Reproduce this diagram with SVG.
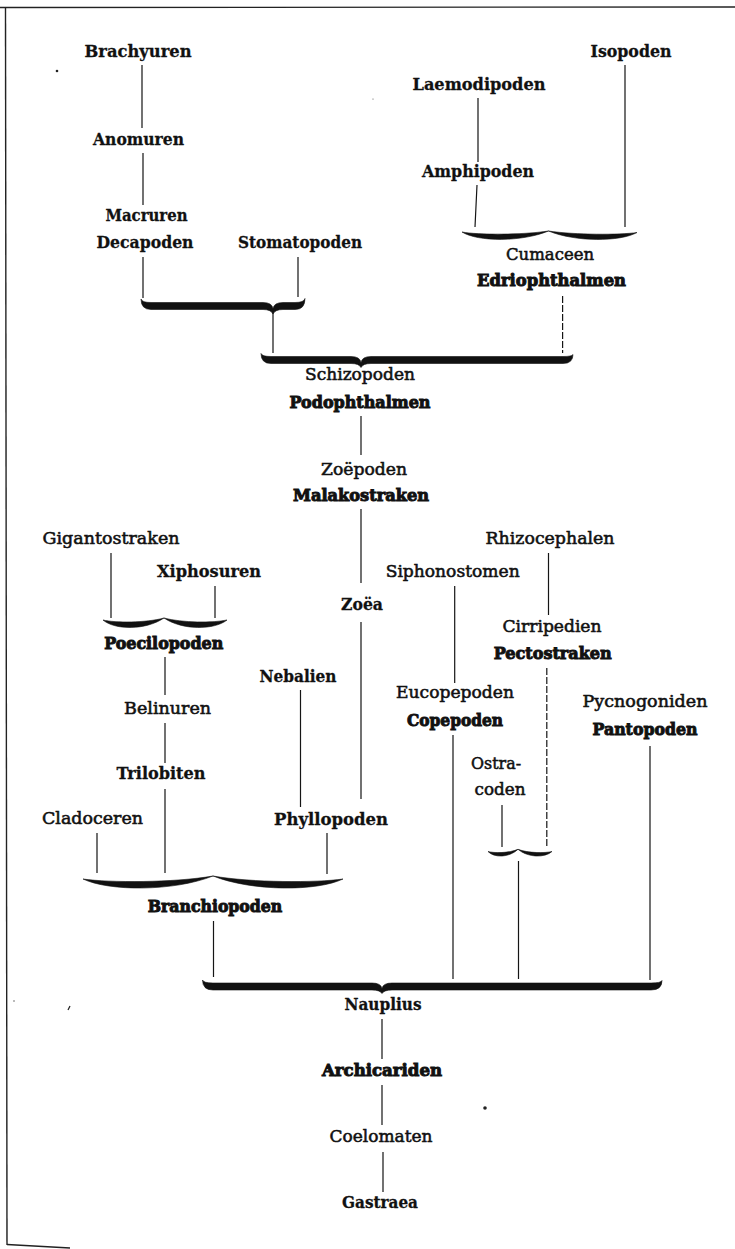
<svg xmlns="http://www.w3.org/2000/svg" width="735" height="1249" viewBox="0 0 735 1249">
<style>
text{font-family:"DejaVu Serif","Liberation Serif",serif;font-size:17px;fill:#111;text-anchor:middle}
.b{font-weight:bold;stroke:#111;stroke-width:0.3px}
.r{font-weight:normal;stroke:#111;stroke-width:0.55px}
.h{font-weight:bold;stroke:#111;stroke-width:1px}
.ln{stroke:#151515;stroke-width:1.2;fill:none}
.ds{stroke-dasharray:7 2}
.br{fill:#111;stroke:#111;stroke-width:0.6}
.fr{stroke:#222;stroke-width:1.4;fill:none}
</style>
<rect width="735" height="1249" fill="#fff"/>
<g id="frame">
<path class="fr" d="M0,7.5 L735,7"/>
<path class="fr" d="M5.5,7.5 L7,1245"/>
<path class="fr" d="M7,1244.5 L70,1248"/>
<circle cx="57" cy="71" r="1.3" fill="#222"/>
<circle cx="485" cy="1108" r="1.8" fill="#222"/>
<path d="M68,1010 L70,1006" stroke="#222" stroke-width="1.3"/>
<circle cx="14" cy="1001" r="0.7" fill="#444"/>
<circle cx="373" cy="99" r="0.6" fill="#555"/>
</g>
<g id="connectors">
<path class="ln" d="M142,65V128 M143,153V205 M143,257V298 M298,257V297 M478,98V162 M477,185L475,227 M625,65V227 M273,313V353 M361,416V455 M361,509V583 M361,622V799 M111,553V618 M215,586V618 M165,657V695 M165,723V763 M165,789V873 M97,833V873 M327,833V874 M300.5,690V807 M213.5,921V977 M454.7,586V683 M453,735V979 M548.5,553V615 M502,805V847 M518.5,861V979 M650,746V980 M382,1019V1059 M382,1085V1125 M383,1152V1192"/>
<path class="ln ds" d="M562.6,296V353 M546.8,668V847"/>
<g id="braces">
<path class="br" d="M141,299 Q141,309.5 151,309.5 L263,309.5 Q271,309.5 273,314 Q275,309.5 283,309.5 L295,309.5 Q305,309.5 305,298.5 Q304,302.5 295,302.5 L283,302.5 Q274,302.5 273,308.5 Q272,302.5 263,302.5 L151,302.5 Q142,302.5 141,299 Z"/>
<path class="br" d="M261,353.5 Q261,363.5 271,363.5 L351,363.5 Q359,363.5 361,367.5 Q363,363.5 371,363.5 L563,363.5 Q573,363.5 573,354.5 Q572,356.5 563,356.5 L371,356.5 Q362,356.5 361,362.5 Q360,356.5 351,356.5 L271,356.5 Q262,356.5 261,353.5 Z"/>
<path class="br" d="M202.5,980 Q202.5,990 213,990 L372,990 Q380,990 382,993.5 Q384,990 392,990 L651,990 Q662,990 662,980.5 Q661,983 651,983 L392,983 Q383,983 382,988.5 Q381,983 372,983 L213,983 Q203.5,983 202.5,980 Z"/>
<path class="br" d="M462,232 C478,242 522,242 548.5,231 C575,242 620,242 637,232.5 C620,235 575,235 548.5,231 C522,235 478,235 462,232 Z"/>
<path class="br" d="M103,620 C115,630.3 146,630.3 164,618 C182,630.3 214,630.3 227,620 C214,622.9 182,622.9 164,618 C146,622.9 115,622.9 103,620 Z"/>
<path class="br" d="M83,879 C109,891.5 174,891.5 213,876 C252,891.5 317,891.5 343,879 C317,882.8 252,882.8 213,876 C174,882.8 109,882.8 83,879 Z"/>
<path class="br" d="M488,851.5 C494,857.9 509,857.9 518,849.3 C528,857.9 545,857.9 552,851.5 C545,853.2 528,853.2 518,849.3 C509,853.2 494,853.2 488,851.5 Z"/>
</g>
</g>
<g id="n-brachyuren"><text class="b" x="138" y="57" textLength="107" lengthAdjust="spacingAndGlyphs">Brachyuren</text></g>
<g id="n-anomuren"><text class="b" x="138.5" y="144.5" textLength="91" lengthAdjust="spacingAndGlyphs">Anomuren</text></g>
<g id="n-macruren"><text class="b" x="146.5" y="220.5" textLength="82" lengthAdjust="spacingAndGlyphs">Macruren</text></g>
<g id="n-decapoden"><text class="b" x="145" y="247.5" textLength="97" lengthAdjust="spacingAndGlyphs">Decapoden</text></g>
<g id="n-stomatopoden"><text class="b" x="300" y="247.5" textLength="124" lengthAdjust="spacingAndGlyphs">Stomatopoden</text></g>
<g id="n-laemodipoden"><text class="b" x="479" y="89.5" textLength="133" lengthAdjust="spacingAndGlyphs">Laemodipoden</text></g>
<g id="n-amphipoden"><text class="b" x="478" y="176.5" textLength="112" lengthAdjust="spacingAndGlyphs">Amphipoden</text></g>
<g id="n-isopoden"><text class="b" x="631" y="56.5" textLength="81" lengthAdjust="spacingAndGlyphs">Isopoden</text></g>
<g id="n-cumaceen"><text class="r" x="550" y="259.5" textLength="88" lengthAdjust="spacingAndGlyphs">Cumaceen</text></g>
<g id="n-edriophthalmen"><text class="h" x="551.5" y="285.5" textLength="149" lengthAdjust="spacingAndGlyphs">Edriophthalmen</text></g>
<g id="n-schizopoden"><text class="r" x="360" y="380" textLength="110" lengthAdjust="spacingAndGlyphs">Schizopoden</text></g>
<g id="n-podophthalmen"><text class="h" x="360" y="407.5" textLength="141" lengthAdjust="spacingAndGlyphs">Podophthalmen</text></g>
<g id="n-zoepoden"><text class="r" x="364" y="474.5" textLength="86" lengthAdjust="spacingAndGlyphs">Zoëpoden</text></g>
<g id="n-malakostraken"><text class="h" x="361" y="501" textLength="136" lengthAdjust="spacingAndGlyphs">Malakostraken</text></g>
<g id="n-gigantostraken"><text class="r" x="111" y="543.5" textLength="137" lengthAdjust="spacingAndGlyphs">Gigantostraken</text></g>
<g id="n-rhizocephalen"><text class="r" x="550" y="543.5" textLength="129" lengthAdjust="spacingAndGlyphs">Rhizocephalen</text></g>
<g id="n-xiphosuren"><text class="b" x="209" y="576.5" textLength="104" lengthAdjust="spacingAndGlyphs">Xiphosuren</text></g>
<g id="n-siphonostomen"><text class="r" x="452.7" y="576.5" textLength="134" lengthAdjust="spacingAndGlyphs">Siphonostomen</text></g>
<g id="n-zoea"><text class="b" x="362" y="609.5" textLength="42" lengthAdjust="spacingAndGlyphs">Zoëa</text></g>
<g id="n-cirripedien"><text class="r" x="552" y="631.5" textLength="99" lengthAdjust="spacingAndGlyphs">Cirripedien</text></g>
<g id="n-poecilopoden"><text class="h" x="163.7" y="648.5" textLength="119" lengthAdjust="spacingAndGlyphs">Poecilopoden</text></g>
<g id="n-pectostraken"><text class="h" x="552.7" y="658.5" textLength="118" lengthAdjust="spacingAndGlyphs">Pectostraken</text></g>
<g id="n-nebalien"><text class="b" x="298" y="681.5" textLength="77" lengthAdjust="spacingAndGlyphs">Nebalien</text></g>
<g id="n-eucopepoden"><text class="r" x="455" y="697.5" textLength="118" lengthAdjust="spacingAndGlyphs">Eucopepoden</text></g>
<g id="n-copepoden"><text class="h" x="455" y="725.5" textLength="96" lengthAdjust="spacingAndGlyphs">Copepoden</text></g>
<g id="n-pycnogoniden"><text class="r" x="645" y="706.5" textLength="125" lengthAdjust="spacingAndGlyphs">Pycnogoniden</text></g>
<g id="n-pantopoden"><text class="h" x="645" y="734.5" textLength="105" lengthAdjust="spacingAndGlyphs">Pantopoden</text></g>
<g id="n-belinuren"><text class="r" x="167.6" y="713.5" textLength="87" lengthAdjust="spacingAndGlyphs">Belinuren</text></g>
<g id="n-trilobiten"><text class="b" x="161" y="779" textLength="89" lengthAdjust="spacingAndGlyphs">Trilobiten</text></g>
<g id="n-cladoceren"><text class="r" x="92.5" y="823.5" textLength="101" lengthAdjust="spacingAndGlyphs">Cladoceren</text></g>
<g id="n-phyllopoden"><text class="b" x="331" y="824.5" textLength="114" lengthAdjust="spacingAndGlyphs">Phyllopoden</text></g>
<g id="n-ostracoden"><text class="r" x="496" y="769" textLength="50" lengthAdjust="spacingAndGlyphs">Ostra-</text><text class="r" x="500" y="795" textLength="51" lengthAdjust="spacingAndGlyphs">coden</text></g>
<g id="n-branchiopoden"><text class="h" x="215" y="911.5" textLength="134.5" lengthAdjust="spacingAndGlyphs">Branchiopoden</text></g>
<g id="n-nauplius"><text class="b" x="383" y="1010" textLength="77" lengthAdjust="spacingAndGlyphs">Nauplius</text></g>
<g id="n-archicariden"><text class="h" x="382" y="1075.5" textLength="120" lengthAdjust="spacingAndGlyphs">Archicariden</text></g>
<g id="n-coelomaten"><text class="r" x="381" y="1141.5" textLength="103" lengthAdjust="spacingAndGlyphs">Coelomaten</text></g>
<g id="n-gastraea"><text class="b" x="380" y="1207.5" textLength="76" lengthAdjust="spacingAndGlyphs">Gastraea</text></g>
</svg>
